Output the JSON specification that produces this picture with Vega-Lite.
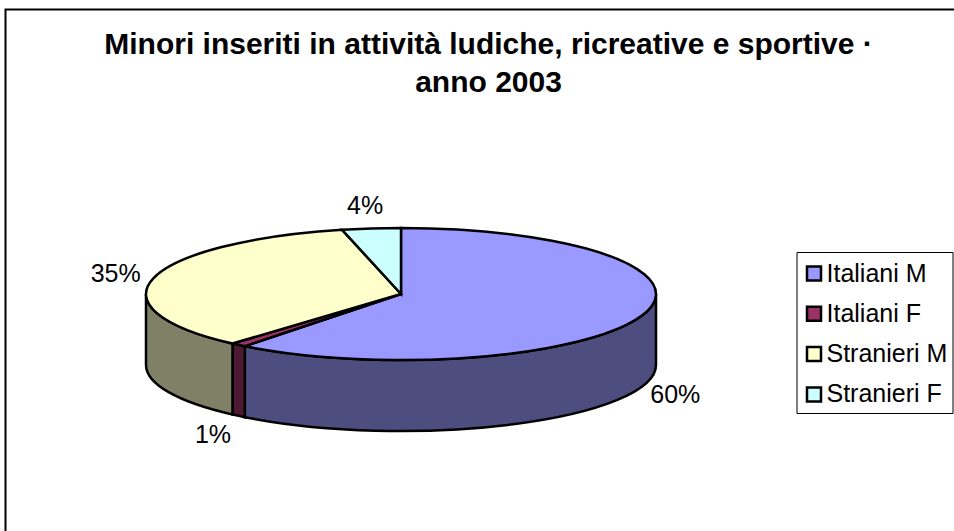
{"$schema":"https://vega.github.io/schema/vega-lite/v6.json","width":960,"height":530,"autosize":"none","padding":{"left":5.5,"top":9.5,"right":0,"bottom":0},"background":"white","view":{"stroke":"black","strokeWidth":2,"fill":"white"},
"title":{"text":["Minori inseriti in attività ludiche, ricreative e sportive ·","anno 2003"],"font":"Liberation Sans","fontWeight":"bold","fontSize":30,"lineHeight":38,"color":"black","anchor":"middle","frame":"group","align":"center","baseline":"alphabetic","dx":3,"dy":112,"offset":0},
"data":{"values":[{"slice":"Italiani M","ord":1,"value":60.49},{"slice":"Italiani F","ord":2,"value":1.0},{"slice":"Stranieri M","ord":3,"value":34.8},{"slice":"Stranieri F","ord":4,"value":3.71}]},
"transform":[{"stack":"value","sort":[{"field":"ord","order":"ascending"}],"groupby":[],"offset":"normalize","as":["v0","v1"]},
{"calculate":"2*PI*datum.v0","as":"a0"},{"calculate":"2*PI*datum.v1","as":"a1"},
{"calculate":"(datum.a0+datum.a1)/2","as":"mid"},
{"calculate":"292*sin(datum.mid)","as":"lx"},
{"calculate":"-90*cos(datum.mid)+(cos(datum.mid)<0?70:0)","as":"ly"},
{"calculate":"format(datum.v1-datum.v0,'.0%')","as":"pct"},
{"calculate":"'M0,0L'+(255*sin(datum.a0))+','+(-66*cos(datum.a0))+'A255,66 0 '+((datum.a1-datum.a0)>PI?1:0)+' 1 '+(255*sin(datum.a1))+','+(-66*cos(datum.a1))+'Z'","as":"topPath"},
{"calculate":"clamp(datum.a0,PI/2,3*PI/2)","as":"w0"},{"calculate":"clamp(datum.a1,PI/2,3*PI/2)","as":"w1"},
{"calculate":"'M'+(255*sin(datum.w0))+','+(-66*cos(datum.w0))+'A255,66 0 0 1 '+(255*sin(datum.w1))+','+(-66*cos(datum.w1))+'L'+(255*sin(datum.w1))+','+(-66*cos(datum.w1)+71)+'A255,66 0 0 0 '+(255*sin(datum.w0))+','+(-66*cos(datum.w0)+71)+'Z'","as":"wallPath"}],
"layer":[
{"transform":[{"filter":"datum.w1>datum.w0"}],"mark":{"type":"point","filled":true,"stroke":"black","strokeWidth":2.5,"opacity":1,"size":4},
"encoding":{"x":{"datum":0,"type":"quantitative","scale":{"domain":[-395.5,564.5]},"axis":null},"y":{"datum":0,"type":"quantitative","scale":{"domain":[-284.5,245.5],"reverse":true},"axis":null},
"shape":{"field":"wallPath","type":"nominal","scale":null},
"fill":{"field":"slice","type":"nominal","scale":{"domain":["Italiani M","Italiani F","Stranieri M","Stranieri F"],"range":["#4d4d80","#4d1a33","#808066","#668080"]},"legend":null}}},
{"mark":{"type":"point","filled":true,"stroke":"black","strokeWidth":2.5,"opacity":1,"size":4},
"encoding":{"x":{"datum":0,"type":"quantitative","scale":{"domain":[-395.5,564.5]},"axis":null},"y":{"datum":0,"type":"quantitative","scale":{"domain":[-284.5,245.5],"reverse":true},"axis":null},
"shape":{"field":"topPath","type":"nominal","scale":null},
"fill":{"field":"slice","type":"nominal","scale":{"domain":["Italiani M","Italiani F","Stranieri M","Stranieri F"],"range":["#9999ff","#993366","#ffffcc","#ccffff"]},
"legend":{"title":"\u00a0","titleFontSize":4,"titlePadding":0,"orient":"none","legendX":791,"legendY":242.5,"strokeColor":"black","fillColor":"white","padding":5,"symbolType":"square","symbolSize":196,"symbolStrokeColor":"black","symbolStrokeWidth":2.5,"labelFont":"Liberation Sans","labelFontSize":25,"labelColor":"black","labelOffset":0,"rowPadding":14.3,"symbolOpacity":1,"labelExpr":"datum.label+'\u00a0\u00a0'"}}}},
{"mark":{"type":"text","font":"Liberation Sans","fontSize":25,"color":"black","dx":-2,"dy":1.5},
"encoding":{"x":{"field":"lx","type":"quantitative","scale":{"domain":[-395.5,564.5]},"axis":null},"y":{"field":"ly","type":"quantitative","scale":{"domain":[-284.5,245.5],"reverse":true},"axis":null},"text":{"field":"pct"}}}
],"resolve":{"scale":{"fill":"independent"}}}
